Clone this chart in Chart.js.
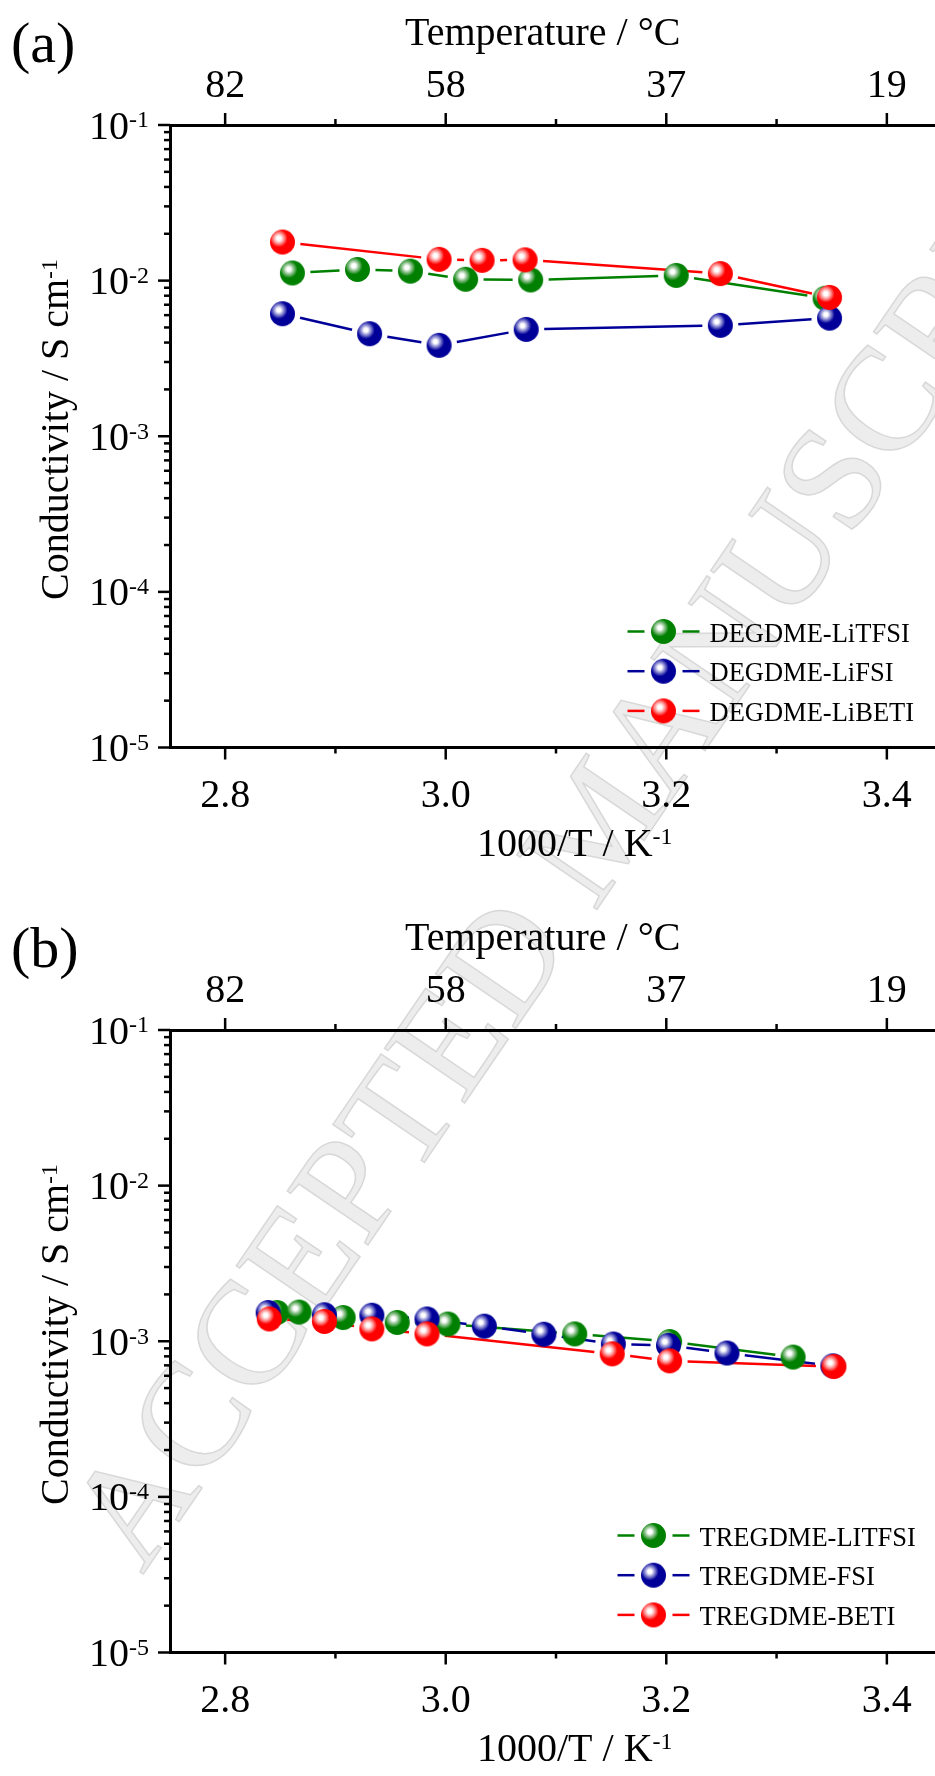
<!DOCTYPE html>
<html>
<head>
<meta charset="utf-8">
<script src="https://cdn.jsdelivr.net/npm/chart.js@4.4.0/dist/chart.umd.min.js"></script>
<style>
  html, body { margin: 0; padding: 0; background: #fff; width: 935px; height: 1776px; overflow: hidden; }
  .stamp {
    position: absolute; left: 596px; top: 822px;
    transform: translate(-50%, -50%) rotate(-55.7deg);
    font: 148px 'Liberation Serif', serif; color: #ededed;
    -webkit-text-stroke: 1.5px #d8d8d8;
    white-space: nowrap; line-height: 1; z-index: 0;
  }
  canvas { position: absolute; left: 0; z-index: 1; }
  #chartA { top: 0; }
  #chartB { top: 905px; }
</style>
</head>
<body>
<div class="stamp">ACCEPTED MANUSCRIPT</div>
<canvas id="chartA" width="960" height="905"></canvas>
<canvas id="chartB" width="960" height="905"></canvas>
<script>
/* ---------- axis ticks ---------- */
const xTickVals = [2.8, 3.0, 3.2, 3.4];
const xTickLabels = ['2.8', '3.0', '3.2', '3.4'];
const xMinorVals = [2.9, 3.1, 3.3];
const tempTickLabels = ['82', '58', '37', '19'];
const yDecades = [-1, -2, -3, -4, -5];

/* ---------- (a) DEGDME ---------- */
const degNames = ['DEGDME-LiTFSI', 'DEGDME-LiFSI', 'DEGDME-LiBETI'];
const degTfsiX = [2.861, 2.920, 2.968, 3.018, 3.077, 3.209, 3.344];
const degTfsiY = [0.0112, 0.0118, 0.0115, 0.0102, 0.0101, 0.0108, 0.0077];
const degFsiX = [2.852, 2.931, 2.994, 3.073, 3.249, 3.348];
const degFsiY = [0.00613, 0.00456, 0.00384, 0.00486, 0.00516, 0.00574];
const degBetiX = [2.852, 2.994, 3.033, 3.072, 3.249, 3.348];
const degBetiY = [0.0177, 0.0137, 0.0135, 0.0136, 0.0111, 0.0078];

/* ---------- (b) TREGDME ---------- */
const treNames = ['TREGDME-LITFSI', 'TREGDME-FSI', 'TREGDME-BETI'];
const treTfsiX = [2.847, 2.867, 2.907, 2.956, 3.002, 3.117, 3.203, 3.315];
const treTfsiY = [1.53e-3, 1.54e-3, 1.42e-3, 1.32e-3, 1.29e-3, 1.115e-3, 9.96e-4, 7.91e-4];
const treFsiX = [2.839, 2.890, 2.933, 2.983, 3.035, 3.089, 3.152, 3.202, 3.255, 3.351];
const treFsiY = [1.53e-3, 1.48e-3, 1.47e-3, 1.39e-3, 1.25e-3, 1.11e-3, 9.6e-4, 9.4e-4, 8.4e-4, 6.95e-4];
const treBetiX = [2.840, 2.890, 2.933, 2.983, 3.151, 3.203, 3.352];
const treBetiY = [1.39e-3, 1.34e-3, 1.2e-3, 1.115e-3, 8.3e-4, 7.48e-4, 6.88e-4];

const COLORS = ['#008000', '#000099', '#ff0000'];
const TINTS = ['#93c493', '#9292d6', '#ffa0a0'];
const FONT = "'Liberation Serif', 'Times New Roman', serif";

// shaded ball used as point marker
function sphere(color, tint) {
    const c = document.createElement('canvas');
    c.width = 27; c.height = 27;
    const g = c.getContext('2d');
    const grad = g.createRadialGradient(9.8, 9.8, 0, 9.8, 9.8, 11);
    grad.addColorStop(0, '#ffffff');
    grad.addColorStop(0.18, '#ffffff');
    grad.addColorStop(0.44, tint);
    grad.addColorStop(0.8, color);
    grad.addColorStop(1, color);
    g.fillStyle = grad;
    g.beginPath();
    g.arc(13.5, 13.5, 12.5, 0, Math.PI * 2);
    g.fill();
    return c;
}
const SPHERES = COLORS.map((c, i) => sphere(c, TINTS[i]));

// text with a raised exponent part
function supText(ctx, base, sup, x, y, size, align) {
    const supSize = Math.round(size * 0.6);
    ctx.font = size + 'px ' + FONT;
    const w1 = ctx.measureText(base).width;
    ctx.font = supSize + 'px ' + FONT;
    const w2 = ctx.measureText(sup).width;
    let x0 = x;
    if (align === 'right') x0 = x - w1 - w2;
    if (align === 'center') x0 = x - (w1 + w2) / 2;
    ctx.textAlign = 'left';
    ctx.font = size + 'px ' + FONT;
    ctx.fillText(base, x0, y);
    ctx.font = supSize + 'px ' + FONT;
    ctx.fillText(sup, x0 + w1, y - size * 0.28);
}

function line(ctx, x1, y1, x2, y2) {
    ctx.beginPath();
    ctx.moveTo(x1, y1);
    ctx.lineTo(x2, y2);
    ctx.stroke();
}

const panelDecor = {
    id: 'panelDecor',
    // connecting lines stop short of each ball
    beforeDatasetsDraw(chart) {
        const ctx = chart.ctx;
        const gap = 18;
        ctx.save();
        ctx.lineWidth = 2.5;
        chart.data.datasets.forEach((ds, i) => {
            const pts = chart.getDatasetMeta(i).data;
            ctx.strokeStyle = ds.borderColor;
            for (let k = 1; k < pts.length; k++) {
                const a = pts[k - 1], b = pts[k];
                const dx = b.x - a.x, dy = b.y - a.y;
                const d = Math.hypot(dx, dy);
                if (d <= gap * 2) continue;
                const ux = dx / d, uy = dy / d;
                line(ctx, a.x + ux * gap, a.y + uy * gap, b.x - ux * gap, b.y - uy * gap);
            }
        });
        ctx.restore();
    },
    afterDraw(chart, args, opts) {
        const ctx = chart.ctx;
        const { left, top, bottom } = chart.chartArea;
        const xs = chart.scales.x, ys = chart.scales.y;
        ctx.save();
        ctx.strokeStyle = '#000';
        ctx.fillStyle = '#000';
        ctx.lineWidth = 2.5;

        // tick marks, all pointing outward
        xTickVals.forEach(v => {
            const px = xs.getPixelForValue(v);
            line(ctx, px, bottom, px, bottom + 12);
            line(ctx, px, top, px, top - 12);
        });
        xMinorVals.forEach(v => {
            const px = xs.getPixelForValue(v);
            line(ctx, px, bottom, px, bottom + 6);
            line(ctx, px, top, px, top - 6);
        });
        yDecades.forEach(e => {
            const py = ys.getPixelForValue(Math.pow(10, e));
            line(ctx, left - 12, py, left, py);
            if (e > -5) {
                for (let m = 2; m <= 9; m++) {
                    const pm = ys.getPixelForValue(m * Math.pow(10, e - 1));
                    line(ctx, left - 6, pm, left, pm);
                }
            }
        });

        // tick labels
        ctx.textBaseline = 'alphabetic';
        ctx.font = '40px ' + FONT;
        ctx.textAlign = 'center';
        xTickVals.forEach((v, i) => {
            const px = xs.getPixelForValue(v);
            ctx.fillText(xTickLabels[i], px, bottom + 59);
            ctx.fillText(tempTickLabels[i], px, top - 28);
        });
        yDecades.forEach(e => {
            const py = ys.getPixelForValue(Math.pow(10, e));
            supText(ctx, '10', String(e), 149, py + 13.5, 40, 'right');
        });

        // axis titles
        ctx.font = '40px ' + FONT;
        ctx.textAlign = 'left';
        ctx.fillText('Temperature / \u00B0C', 405, top - 80);
        supText(ctx, '1000/T / K', '-1', 477, bottom + 108, 40, 'left');
        ctx.save();
        ctx.translate(68, 600);
        ctx.rotate(-Math.PI / 2);
        supText(ctx, 'Conductivity / S cm', '-1', 0, 0, 40, 'left');
        ctx.restore();

        // panel tag
        ctx.font = '58px ' + FONT;
        ctx.textAlign = 'left';
        ctx.fillText(opts.tag, 11, 62);

        // legend
        ctx.lineWidth = 2.5;
        chart.data.datasets.forEach((ds, i) => {
            const cy = opts.legendY + i * 39.7;
            const cx = opts.legendX;
            ctx.strokeStyle = ds.borderColor;
            line(ctx, cx - 36, cy, cx - 19, cy);
            line(ctx, cx + 19, cy, cx + 36, cy);
            ctx.drawImage(SPHERES[i], cx - 13.5, cy - 13.5);
            ctx.fillStyle = '#000';
            ctx.font = '26.5px ' + FONT;
            ctx.fillText(ds.label, cx + 46, cy + 10);
        });
        ctx.restore();
    }
};

const pairs = (xs, ys) => xs.map((x, i) => ({ x: x, y: ys[i] }));

function buildPanel(canvasId, tag, names, series, legendX, legendY) {
    const xAxis = (pos, h) => ({
        type: 'linear', position: pos, min: 2.75, max: 3.45,
        grid: { display: false, drawTicks: false },
        ticks: { display: false },
        border: { display: true, color: '#000', width: 3 },
        afterFit: s => { s.height = h; }
    });
    return new Chart(document.getElementById(canvasId), {
        type: 'scatter',
        data: {
            datasets: series.map((s, i) => ({
                label: names[i],
                data: pairs(s[0], s[1]),
                borderColor: COLORS[i],
                backgroundColor: COLORS[i],
                pointStyle: SPHERES[i],
                pointRadius: 12.5,
                showLine: false,
                order: 3 - i,
                xAxisID: 'x',
                yAxisID: 'y'
            }))
        },
        options: {
            responsive: false,
            animation: false,
            events: [],
            layout: { padding: { left: 0, top: 0, bottom: 0, right: 18 } },
            scales: {
                x: xAxis('bottom', 157.5),
                x2: xAxis('top', 125),
                y: {
                    type: 'logarithmic', position: 'left', min: 1e-5, max: 1e-1,
                    grid: { display: false, drawTicks: false },
                    ticks: { display: false },
                    border: { display: true, color: '#000', width: 3 },
                    afterFit: s => { s.width = 170; }
                }
            },
            plugins: {
                legend: { display: false },
                tooltip: { enabled: false },
                panelDecor: { tag: tag, legendX: legendX, legendY: legendY }
            }
        },
        plugins: [panelDecor]
    });
}

buildPanel('chartA', '(a)', degNames,
    [[degTfsiX, degTfsiY], [degFsiX, degFsiY], [degBetiX, degBetiY]], 663.5, 631.5);
buildPanel('chartB', '(b)', treNames,
    [[treTfsiX, treTfsiY], [treFsiX, treFsiY], [treBetiX, treBetiY]], 653.5, 630.5);
</script>
</body>
</html>
